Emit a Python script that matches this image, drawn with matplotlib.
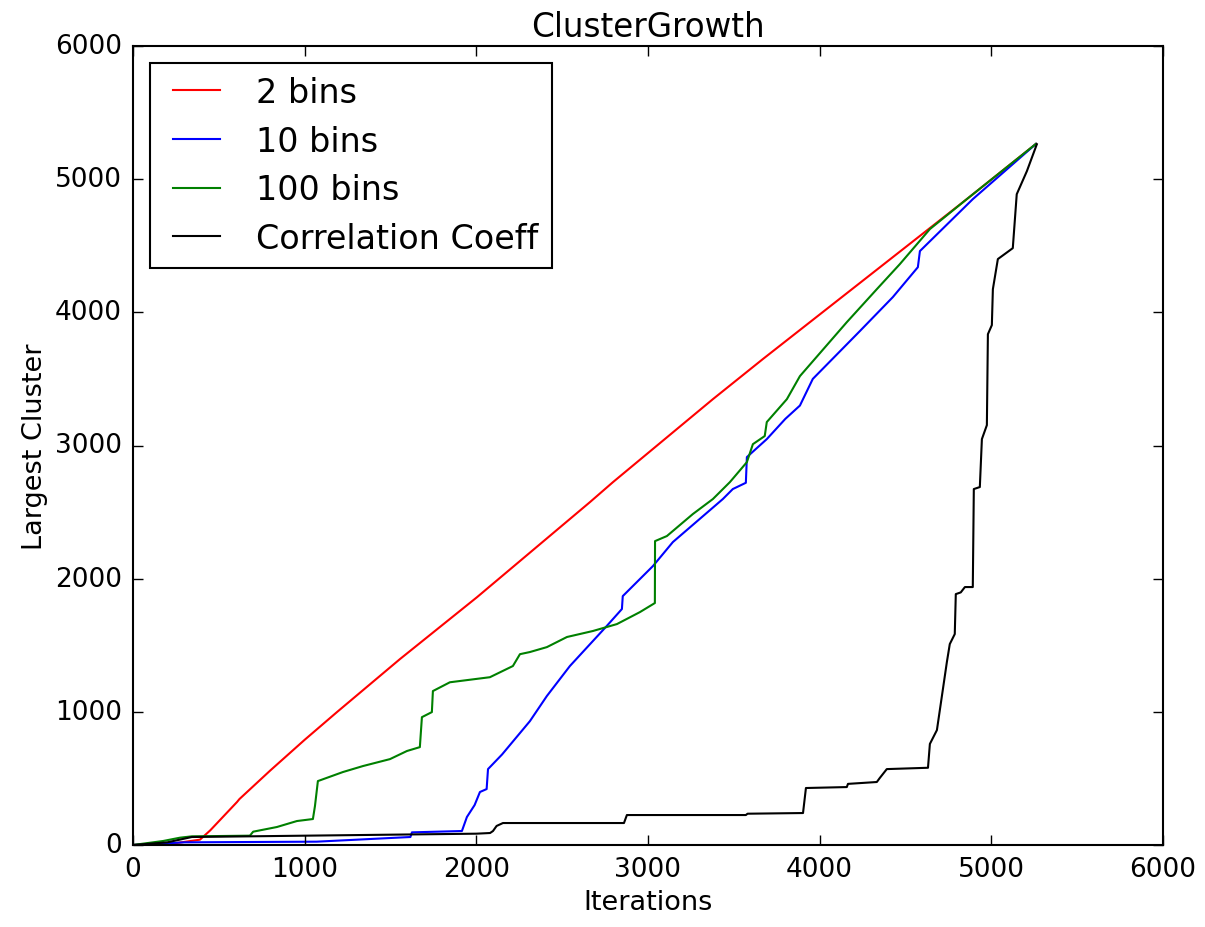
import matplotlib
matplotlib.use("Agg")
import matplotlib.pyplot as plt

plt.style.use("classic")

# ---- data ----
red_x = [0, 200, 390, 450, 606, 620, 800, 1000, 1188, 1555, 2003, 2662, 2796, 3378, 3670, 4857, 5260]
red_y = [0, 5, 40, 110, 323, 345, 560, 790, 998, 1396, 1860, 2575, 2725, 3348, 3650, 4850, 5265]

blue_x = [0, 300, 1070, 1616, 1625, 1916, 1945, 1990, 2021, 2060, 2068, 2150, 2312, 2411, 2545,
          2760, 2848, 2853, 3029, 3145, 3436, 3494, 3570, 3576, 3692, 3800, 3885, 3960, 4234,
          4426, 4572, 4584, 4892, 5260]
blue_y = [0, 20, 25, 60, 95, 105, 210, 300, 398, 420, 570, 680, 930, 1119, 1344,
          1645, 1772, 1869, 2095, 2275, 2598, 2673, 2720, 2913, 3048, 3200, 3300, 3500, 3859,
          4114, 4339, 4460, 4850, 5265]

green_x = [0, 175, 274, 343, 681, 700, 838, 955, 1048, 1060, 1077, 1223, 1340, 1497, 1596,
           1671, 1683, 1741, 1747, 1846, 2079, 2213, 2254, 2312, 2411, 2528, 2679, 2819,
           2953, 3040, 3041, 3110, 3261, 3378, 3477, 3576, 3611, 3680, 3692, 3809, 3885,
           4158, 4333, 4467, 4642, 4857, 5260]
green_y = [0, 30, 55, 65, 70, 100, 135, 180, 195, 293, 480, 548, 593, 645, 706,
           735, 960, 998, 1156, 1222, 1260, 1344, 1433, 1449, 1486, 1562, 1607, 1659,
           1749, 1817, 2282, 2320, 2485, 2598, 2725, 2875, 3010, 3071, 3176, 3348, 3521,
           3926, 4174, 4362, 4625, 4850, 5265]

black_x = [0, 200, 343, 1000, 2000, 2080, 2097, 2118, 2155, 2860, 2877, 3570, 3580, 3903, 3920,
           4158, 4165, 4333, 4350, 4391, 4631, 4642, 4683, 4718, 4741, 4758, 4787, 4793, 4822,
           4846, 4892, 4898, 4933, 4945, 4974, 4980, 5003, 5009, 5038, 5125, 5148, 5207, 5265]
black_y = [0, 20, 60, 70, 85, 90, 105, 143, 165, 165, 225, 225, 235, 240, 428,
           435, 459, 473, 503, 570, 580, 759, 863, 1171, 1374, 1509, 1584, 1884, 1897,
           1937, 1937, 2673, 2688, 3048, 3153, 3836, 3904, 4174, 4400, 4482, 4887, 5060, 5262]

labels = ["2 bins", "10 bins", "100 bins", "Correlation Coeff"]
colors = ["r", "b", "g", "k"]
ticks = [0, 1000, 2000, 3000, 4000, 5000, 6000]

fig = plt.figure(figsize=(12.05, 9.28), dpi=100, facecolor="white")
ax = fig.add_axes([133 / 1205, 1 - 846 / 928, (1163 - 133) / 1205, (846 - 47) / 928])

series = [(red_x, red_y), (blue_x, blue_y), (green_x, green_y), (black_x, black_y)]
for (xs, ys), lab, c in zip(series, labels, colors):
    ax.plot(xs, ys, color=c, lw=1.5, label=lab)

ax.set_xlim(0, 6000)
ax.set_ylim(0, 6000)
ax.set_xticks(ticks)
ax.set_yticks(ticks)
ax.tick_params(axis="both", which="major", labelsize=19, length=7, width=1, direction="in",
               top=True, right=True, pad=8)
for sp in ax.spines.values():
    sp.set_linewidth(1.5)

ax.set_title("ClusterGrowth", fontsize=23.5, pad=7)
ax.set_xlabel("Iterations", fontsize=19.5)
ax.set_ylabel("Largest Cluster", fontsize=19.5)

leg = ax.legend(loc="upper left", fontsize=24, handlelength=2.0, handletextpad=0.8,
                borderaxespad=0.5, labelspacing=0.47, borderpad=0.4, frameon=True,
                fancybox=False)
leg.get_frame().set_linewidth(1.5)
leg.get_frame().set_edgecolor("black")

fig.savefig("out.png", dpi=100, facecolor="white")
